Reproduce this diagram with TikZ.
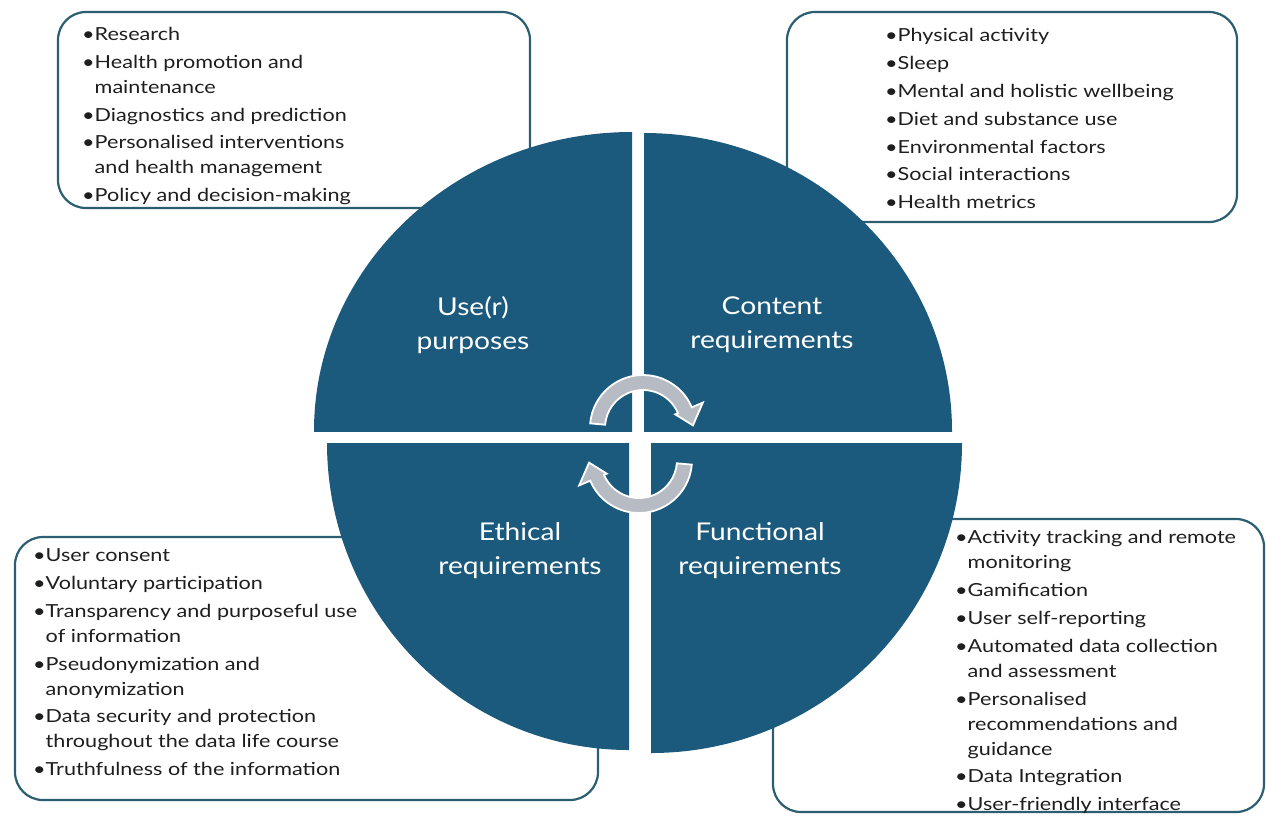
\documentclass[tikz,border=0pt]{standalone}
\usepackage{fontspec}
\setmainfont{Lato}
\newfontfamily\listfont[FakeStretch=1.2]{Lato}
\newfontfamily\titlefont[FakeStretch=1.15]{Lato}
\definecolor{quad}{HTML}{1B5A7C}
\definecolor{frame}{HTML}{2A5E70}
\definecolor{cyclegrey}{HTML}{B7BCC4}
\definecolor{bodytext}{HTML}{1E1E1E}
\newcommand{\cont}{\hphantom{\textbullet}}
\begin{document}
\begin{tikzpicture}[x=1pt,y=-1pt,
  infobox/.style={draw=frame, line width=2.2pt, fill=white, rounded corners=28pt},
  listtext/.style={anchor=north west, align=left, inner sep=0pt, text=bodytext,
    font=\listfont\fontsize{18}{25}\selectfont},
  quadlabel/.style={align=center, text=white, inner sep=0pt,
    font=\titlefont\fontsize{24.5}{34}\selectfont},
  cyclearrow/.style={fill=cyclegrey, draw=white, line width=1.8pt, line join=miter}]
\useasboundingbox (0,0) rectangle (1266,815);

% rounded frames behind the circle
\path[infobox] (58,12) rectangle (530,208);
\path[infobox] (787,12) rectangle (1237,222);
\path[infobox] (15,537) rectangle (598,800);
\path[infobox] (773,519) rectangle (1264,812);

% four quarter discs
\begin{scope}
  \clip (632,431) rectangle (280,100);
  \fill[quad] (632,431) ellipse[x radius=318, y radius=299];
\end{scope}
\begin{scope}
  \clip (644,431) rectangle (1000,100);
  \fill[quad] (644,431) ellipse[x radius=308, y radius=298];
\end{scope}
\begin{scope}
  \clip (629,443) rectangle (280,790);
  \fill[quad] (629,443) ellipse[x radius=302, y radius=307];
\end{scope}
\begin{scope}
  \clip (651,443) rectangle (1000,790);
  \fill[quad] (651,443) ellipse[x radius=311, y radius=310];
\end{scope}

% quadrant titles
\node[quadlabel] (use) at (473,325) {Use(r)\\purposes};
\node[quadlabel] (content) at (772,325) {Content\\requirements};
\node[quadlabel] (ethical) at (520,551) {Ethical\\requirements};
\node[quadlabel] (functional) at (760,551) {Functional\\requirements};

% cycle arrows in the middle
\begin{scope}[shift={(643,428)}, y=1pt]
  \path[cyclearrow] (175:53) arc[start angle=175, end angle=23, radius=53]
    -- (23:65) -- (3:50) -- (23:35) -- (23:38)
    arc[start angle=23, end angle=175, radius=38] -- cycle;
\end{scope}
\begin{scope}[shift={(639,460)}, y=1pt]
  \path[cyclearrow] (355:53) arc[start angle=355, end angle=203, radius=53]
    -- (203:65) -- (183:50) -- (203:35) -- (203:38)
    arc[start angle=203, end angle=355, radius=38] -- cycle;
\end{scope}

% bullet lists
\node[listtext] (purposes) at (82,27) {%
  \textbullet Research\\[2.8pt]
  \textbullet Health promotion and\\
  \cont maintenance\\[2.8pt]
  \textbullet Diagnostics and prediction\\[2.8pt]
  \textbullet Personalised interventions\\
  \cont and health management\\[2.8pt]
  \textbullet Policy and decision-making};

\node[listtext] (contents) at (885,28.5) {%
  \textbullet Physical activity\\[2.8pt]
  \textbullet Sleep\\[2.8pt]
  \textbullet Mental and holistic wellbeing\\[2.8pt]
  \textbullet Diet and substance use\\[2.8pt]
  \textbullet Environmental factors\\[2.8pt]
  \textbullet Social interactions\\[2.8pt]
  \textbullet Health metrics};

\node[listtext] (ethics) at (33,548.5) {%
  \textbullet User consent\\[2.8pt]
  \textbullet Voluntary participation\\[2.8pt]
  \textbullet Transparency and purposeful use\\
  \cont of information\\[2.8pt]
  \textbullet Pseudonymization and\\
  \cont anonymization\\[2.8pt]
  \textbullet Data security and protection\\
  \cont throughout the data life course\\[2.8pt]
  \textbullet Truthfulness of the information};

\node[listtext] (functions) at (955,530.5) {%
  \textbullet Activity tracking and remote\\
  \cont monitoring\\[2.8pt]
  \textbullet Gamification\\[2.8pt]
  \textbullet User self-reporting\\[2.8pt]
  \textbullet Automated data collection\\
  \cont and assessment\\[2.8pt]
  \textbullet Personalised\\
  \cont recommendations and\\
  \cont guidance\\[2.8pt]
  \textbullet Data Integration\\[2.8pt]
  \textbullet User-friendly interface};
\end{tikzpicture}
\end{document}
